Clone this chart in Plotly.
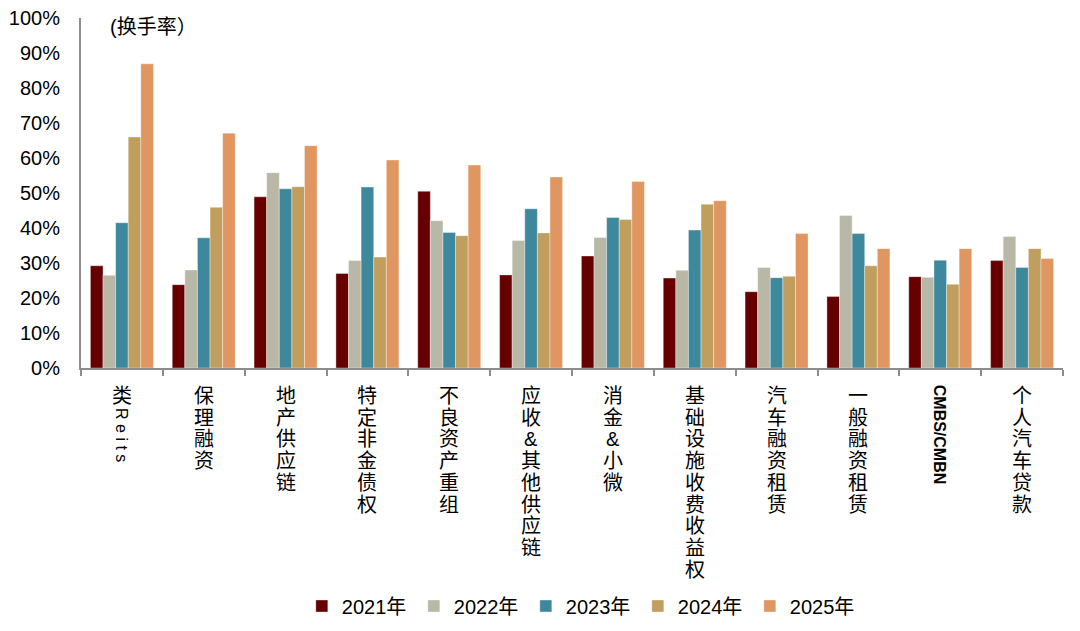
import plotly.graph_objects as go

categories = ["类Reits", "保理融资", "地产供应链", "特定非金债权", "不良资产重组", "应收&其他供应链",
              "消金&小微", "基础设施收费收益权", "汽车融资租赁", "一般融资租赁", "CMBS/CMBN", "个人汽车贷款"]
series_names = ["2021年", "2022年", "2023年", "2024年", "2025年"]
v2021 = [29.2, 23.8, 48.9, 27.0, 50.5, 26.6, 32.0, 25.7, 21.8, 20.4, 26.1, 30.7]
v2022 = [26.5, 28.0, 55.8, 30.7, 42.1, 36.4, 37.3, 27.9, 28.7, 43.6, 25.9, 37.6]
v2023 = [41.5, 37.2, 51.2, 51.7, 38.7, 45.5, 43.0, 39.4, 25.8, 38.4, 30.8, 28.7]
v2024 = [66.0, 45.9, 51.8, 31.7, 37.8, 38.6, 42.4, 46.8, 26.2, 29.2, 23.9, 34.1]
v2025 = [86.9, 67.1, 63.5, 59.4, 58.0, 54.6, 53.3, 47.8, 38.4, 34.1, 34.1, 31.3]
colors = ["#660000", "#B9B7A5", "#3E889D", "#BF9E5E", "#DF9661"]
yticks = [0, 0.1, 0.2, 0.3, 0.4, 0.5, 0.6, 0.7, 0.8, 0.9, 1.0]

FONT = "Liberation Sans, Arial, Noto Sans CJK SC, sans-serif"

fig = go.Figure()
for name, vals, c in zip(series_names, [v2021, v2022, v2023, v2024, v2025], colors):
    fig.add_trace(go.Bar(
        x=categories, y=[v / 100 for v in vals], name=name,
        marker=dict(color=c, line=dict(color="rgba(255,255,255,0.6)", width=0.6)),
    ))

CHAR_STEP = 21.7
annotations = []


def stack(cat, chars, start):
    for i, ch in enumerate(chars):
        annotations.append(dict(x=cat, y=0, xref="x", yref="y",
                                yshift=-(start + i * CHAR_STEP), yanchor="top",
                                text=ch, showarrow=False,
                                font=dict(size=20, family=FONT, color="black")))


for cat in categories:
    if cat == "类Reits":
        stack(cat, ["类"], 15)
        annotations.append(dict(x=cat, y=0, xref="x", yref="y", yshift=-38, yanchor="top",
                                text="R e i t s", textangle=90, showarrow=False,
                                font=dict(size=16, family=FONT, color="black")))
    elif cat == "CMBS/CMBN":
        annotations.append(dict(x=cat, y=0, xref="x", yref="y", yshift=-15, yanchor="top",
                                text="<b>CMBS/CMBN</b>", textangle=90, showarrow=False,
                                font=dict(size=16, family=FONT, color="black")))
    else:
        stack(cat, list(cat), 15)

annotations.append(dict(xref="x domain", yref="y domain", x=0.027, y=0.975,
                        text="(换手率）", showarrow=False, xanchor="left", yanchor="middle",
                        font=dict(size=20, family=FONT, color="black")))

fig.update_layout(
    width=1080, height=631,
    margin=dict(l=73, r=25, t=10, b=271),
    paper_bgcolor="white", plot_bgcolor="white",
    barmode="group", bargap=0.23, bargroupgap=0,
    font=dict(family=FONT, size=18, color="black"),
    showlegend=True,
    legend=dict(orientation="h", x=0.51, xanchor="center", y=-0.68, yanchor="middle",
                font=dict(size=20, family=FONT), itemwidth=30, entrywidth=67,
                entrywidthmode="pixels"),
    annotations=annotations,
    xaxis=dict(showticklabels=False, showline=True, linecolor="#8C8C8C", linewidth=2,
               ticks="outside", tickson="boundaries", ticklen=6, tickcolor="#8C8C8C",
               tickwidth=2, showgrid=False, automargin=False),
    yaxis=dict(range=[0, 1], tickvals=yticks, tickformat=".0%", showline=True,
               linecolor="#8C8C8C", linewidth=2, showgrid=False, zeroline=False,
               ticks="", ticklabelstandoff=15, automargin=False, ticklabeloverflow="allow",
               tickfont=dict(size=20, family=FONT, color="black")),
)

fig.write_html("out.html")
